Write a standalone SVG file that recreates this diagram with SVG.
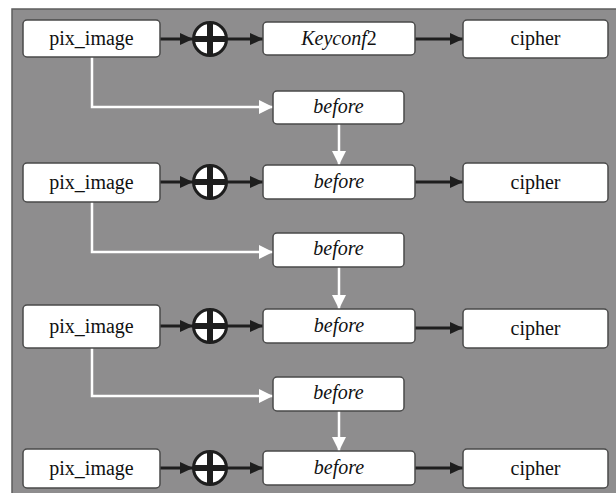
<svg xmlns="http://www.w3.org/2000/svg" width="616" height="493" viewBox="0 0 616 493">
<defs>
<style>
.box{fill:#fff;stroke:#4a4a4a;stroke-width:1.5}
.t{font-family:"Liberation Serif","DejaVu Serif",serif;font-size:20px;fill:#111;text-anchor:middle}
.i{font-style:italic}
.blk{stroke:#1e1e1e;stroke-width:3;fill:none}
.wht{stroke:#fff;stroke-width:2.5;fill:none}
</style>
<marker id="ab" markerUnits="userSpaceOnUse" markerWidth="14" markerHeight="14" viewBox="0 0 14 14" refX="13" refY="7" orient="auto">
<path d="M0,1 L13,7 L0,13 Z" fill="#1e1e1e"/>
</marker>
<marker id="aw" markerUnits="userSpaceOnUse" markerWidth="16" markerHeight="16" viewBox="0 0 16 16" refX="14" refY="8" orient="auto">
<path d="M0,1 L14,8 L0,15 Z" fill="#fff"/>
</marker>
<g id="xor">
<circle r="16.5" fill="#fff" stroke="#1e1e1e" stroke-width="3"/>
<rect x="-3" y="-16" width="6" height="32" fill="#1e1e1e"/>
<rect x="-16" y="-3" width="32" height="6" fill="#1e1e1e"/>
</g>
</defs>
<rect x="12" y="9" width="610" height="490" fill="#8e8d8e" stroke="#5e5e5e" stroke-width="1.5"/>

<g id="connectors">
<line class="blk" x1="160" y1="39" x2="193" y2="39" marker-end="url(#ab)"/>
<line class="blk" x1="227" y1="39" x2="263" y2="39" marker-end="url(#ab)"/>
<line class="blk" x1="415" y1="39" x2="463" y2="39" marker-end="url(#ab)"/>
<polyline class="wht" points="92,57 92,107 273,107" marker-end="url(#aw)"/>
<line class="wht" x1="339" y1="124" x2="339" y2="165" marker-end="url(#aw)"/>

<line class="blk" x1="160" y1="182" x2="193" y2="182" marker-end="url(#ab)"/>
<line class="blk" x1="227" y1="182" x2="263" y2="182" marker-end="url(#ab)"/>
<line class="blk" x1="415" y1="182" x2="463" y2="182" marker-end="url(#ab)"/>
<polyline class="wht" points="92,202 92,252 273,252" marker-end="url(#aw)"/>
<line class="wht" x1="339" y1="267" x2="339" y2="309" marker-end="url(#aw)"/>

<line class="blk" x1="160" y1="326" x2="193" y2="326" marker-end="url(#ab)"/>
<line class="blk" x1="227" y1="326" x2="263" y2="326" marker-end="url(#ab)"/>
<line class="blk" x1="415" y1="328" x2="463" y2="328" marker-end="url(#ab)"/>
<polyline class="wht" points="92,348 92,396 273,396" marker-end="url(#aw)"/>
<line class="wht" x1="339" y1="411" x2="339" y2="451" marker-end="url(#aw)"/>

<line class="blk" x1="160" y1="468" x2="193" y2="468" marker-end="url(#ab)"/>
<line class="blk" x1="227" y1="468" x2="263" y2="468" marker-end="url(#ab)"/>
<line class="blk" x1="415" y1="468" x2="463" y2="468" marker-end="url(#ab)"/>
</g>

<g id="xor1"><use href="#xor" x="210" y="39"/></g>
<g id="xor2"><use href="#xor" x="210" y="182"/></g>
<g id="xor3"><use href="#xor" x="210" y="326"/></g>
<g id="xor4"><use href="#xor" x="210" y="468"/></g>

<g id="pix1"><rect class="box" x="23" y="20" width="137" height="37" rx="4"/><text class="t" x="91.5" y="45">pix_image</text></g>
<g id="key1"><rect class="box" x="263" y="22" width="152" height="33" rx="4"/><text class="t" x="339" y="45"><tspan class="i">Keyconf</tspan>2</text></g>
<g id="cipher1"><rect class="box" x="463" y="20" width="145" height="38" rx="4"/><text class="t" x="535.5" y="45">cipher</text></g>
<g id="branch1"><rect class="box" x="273" y="91" width="131" height="33" rx="4"/><text class="t i" x="338.5" y="113">before</text></g>

<g id="pix2"><rect class="box" x="23" y="163" width="137" height="39" rx="4"/><text class="t" x="91.5" y="189">pix_image</text></g>
<g id="before2"><rect class="box" x="263" y="165" width="152" height="34" rx="4"/><text class="t i" x="339" y="188">before</text></g>
<g id="cipher2"><rect class="box" x="463" y="163" width="145" height="39" rx="4"/><text class="t" x="535.5" y="189">cipher</text></g>
<g id="branch2"><rect class="box" x="273" y="233" width="131" height="34" rx="4"/><text class="t i" x="338.5" y="255">before</text></g>

<g id="pix3"><rect class="box" x="23" y="305" width="137" height="43" rx="4"/><text class="t" x="91.5" y="333">pix_image</text></g>
<g id="before3"><rect class="box" x="263" y="309" width="152" height="34" rx="4"/><text class="t i" x="339" y="332">before</text></g>
<g id="cipher3"><rect class="box" x="463" y="309" width="145" height="39" rx="4"/><text class="t" x="535.5" y="335">cipher</text></g>
<g id="branch3"><rect class="box" x="273" y="377" width="131" height="34" rx="4"/><text class="t i" x="338.5" y="399">before</text></g>

<g id="pix4"><rect class="box" x="23" y="449" width="137" height="39" rx="4"/><text class="t" x="91.5" y="475">pix_image</text></g>
<g id="before4"><rect class="box" x="263" y="451" width="152" height="34" rx="4"/><text class="t i" x="339" y="474">before</text></g>
<g id="cipher4"><rect class="box" x="463" y="449" width="145" height="39" rx="4"/><text class="t" x="535.5" y="475">cipher</text></g>
</svg>
